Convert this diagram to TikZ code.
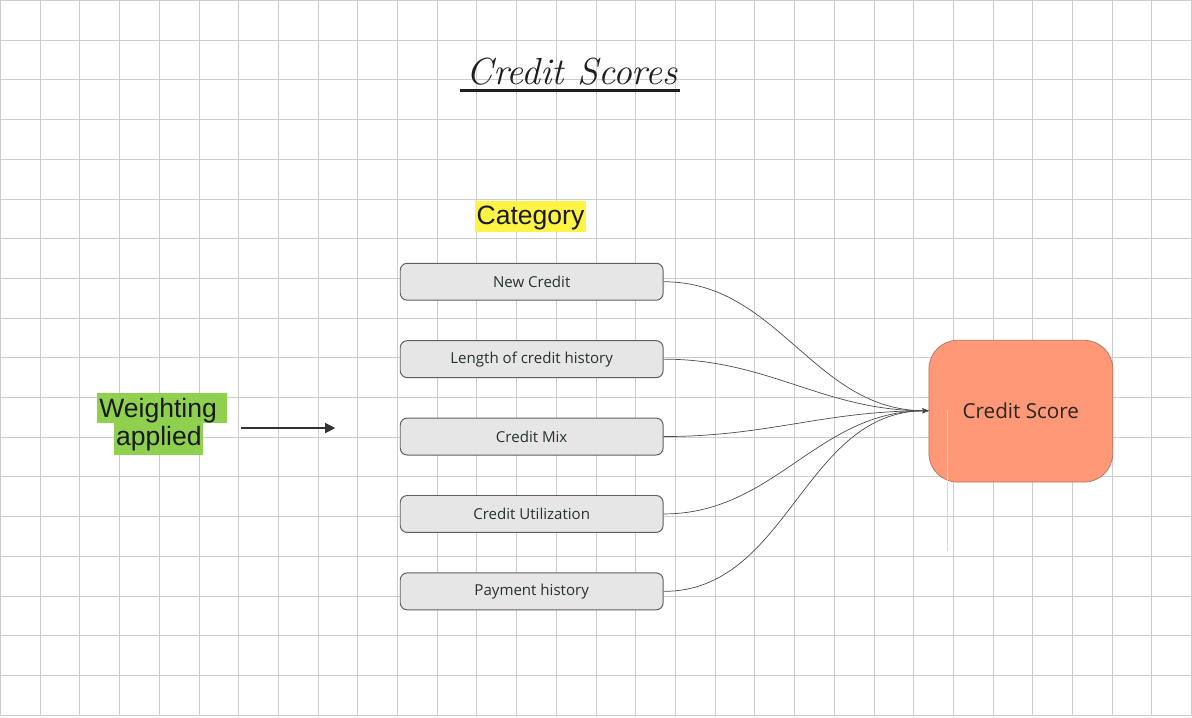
\documentclass[tikz,border=0pt]{standalone}
\usepackage{fontspec}
\newfontfamily\boxfont{Open Sans}
\newfontfamily\labelfont{Liberation Sans}
\usetikzlibrary{arrows.meta,positioning}

\definecolor{gridline}{RGB}{205,205,205}
\definecolor{boxfill}{RGB}{230,230,230}
\definecolor{boxline}{RGB}{95,95,95}
\definecolor{boxtext}{RGB}{38,50,48}
\definecolor{scorefill}{RGB}{255,152,118}
\definecolor{scoreline}{RGB}{185,112,96}
\definecolor{markgreen}{RGB}{143,209,79}
\definecolor{markyellow}{RGB}{254,244,69}
\definecolor{inkdark}{RGB}{51,51,51}

\begin{document}
\begin{tikzpicture}[
  catbox/.style={
    draw=boxline,
    rounded corners=5pt,
    line width=0.7pt,
    fill=boxfill,
    minimum width=6.62cm,
    minimum height=0.93cm,
    inner sep=0pt,
    text=boxtext,
    font=\boxfont\fontsize{10.8}{13}\selectfont
  },
  scorebox/.style={
    draw=scoreline,
    rounded corners=0.72cm,
    line width=0.5pt,
    fill=scorefill,
    minimum width=4.63cm,
    minimum height=3.57cm,
    inner sep=0pt,
    text=black!85,
    font=\boxfont\fontsize{14.8}{17}\selectfont
  },
  marked/.style={
    inner xsep=0pt,
    inner ysep=0pt,
    text=black!90,
    font=\labelfont\fontsize{19}{22}\selectfont
  },
  feed/.style={-{Stealth[length=1.6mm,width=1.2mm]}, line width=0.5pt, draw=black!70,
    out=0, in=180},
  arrow/.style={-{Triangle[length=2.6mm,width=2.4mm]}, line width=1.8pt, draw=inkdark}
]

% background grid
\fill[white] (0,0) rectangle (30,-18.05);
\draw[gridline, line width=0.6pt] (0,0) grid[step=1] (30,-18);
\useasboundingbox (0,0) rectangle (30,-18.05);

% title
\node[font=\fontsize{27}{30}\selectfont\itshape, text=black!88] (title) at (14.40,-1.80)
  {Credit Scores};
\draw[line width=2.2pt, black!88] (11.58,-2.265) -- (17.12,-2.265);

% highlighted labels
\node[marked, fill=markyellow, minimum width=2.79cm, text height=17.1pt, text depth=5.7pt] (category)
  at (13.35,-5.44) {Category};
\node[marked, fill=markgreen, minimum width=3.27cm, text height=17.1pt, text depth=4.3pt] (weightA)
  at (4.08,-10.27) {Weighting\hspace*{0.22cm}};
\node[marked, fill=markgreen, minimum width=2.24cm, text height=15.7pt, text depth=7.1pt] (weightB)
  at (3.99,-11.05) {applied};

\coordinate (weightStart) at (6.07,-10.77);
\coordinate (weightEnd) at (8.44,-10.77);
\draw[arrow] (weightStart) -- (weightEnd);

% categories
\node[catbox] (newCredit) at (13.38,-7.085) {New Credit};
\node[catbox, below=0.995cm of newCredit] (history) {Length of credit history};
\node[catbox, below=0.995cm of history] (mix) {Credit Mix};
\node[catbox, below=0.995cm of mix] (utilization) {Credit Utilization};
\node[catbox, below=0.995cm of utilization] (payment) {Payment history};

% result
\node[scorebox] (score) at (25.70,-10.345) {Credit Score};
\coordinate (scoreIn) at ([yshift=0.01cm]score.west);
\coordinate (faintTop) at (23.84,-10.32);
\coordinate (faintBottom) at (23.84,-13.87);
\draw[black!14, line width=0.6pt] (faintTop) -- (faintBottom);

\foreach \src in {newCredit,history,mix,utilization,payment}
  \draw[feed] (\src.east) to (scoreIn);

\end{tikzpicture}
\end{document}
